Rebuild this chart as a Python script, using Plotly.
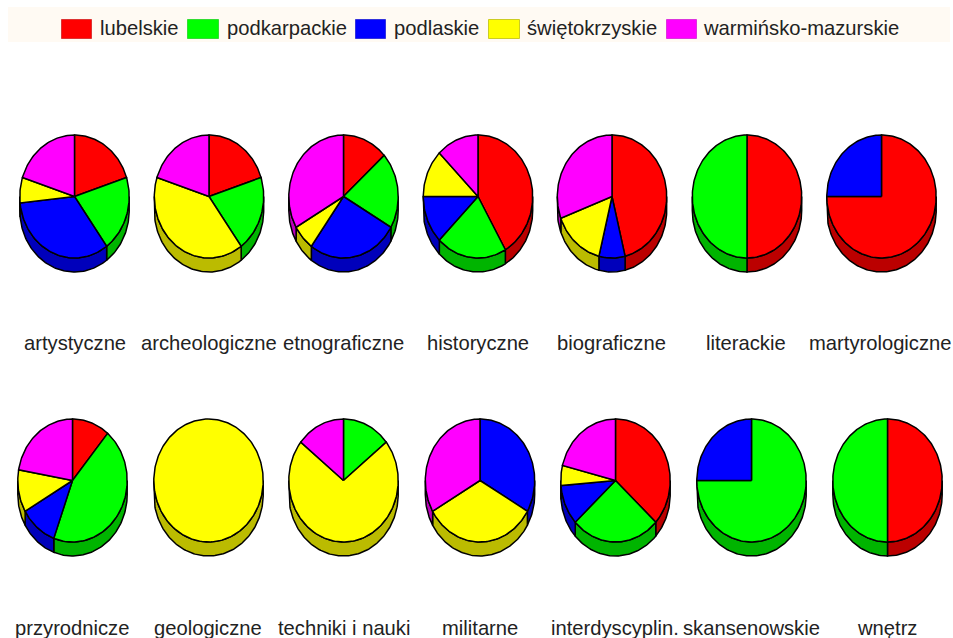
import numpy as np
import plotly.graph_objects as go

regions = ["lubelskie", "podkarpackie", "podlaskie", "świętokrzyskie", "warmińsko-mazurskie"]
colors = ["#ff0000", "#00ff00", "#0000ff", "#ffff00", "#ff00ff"]
wall_colors = ["#bb0000", "#00b400", "#0000bb", "#bbbb00", "#bb00bb"]
swatch_lines = ["#dd3333", "#33dd33", "#3333dd", "#cccc22", "#dd33dd"]

categories_top = ["artystyczne", "archeologiczne", "etnograficzne", "historyczne",
                  "biograficzne", "literackie", "martyrologiczne"]
categories_bottom = ["przyrodnicze", "geologiczne", "techniki i nauki", "militarne",
                     "interdyscyplin.", "skansenowskie", "wnętrz"]

lubelskie =      [3, 1, 2, 10, 6, 1, 3,   1, 0, 0, 0, 7, 0, 1]
podkarpackie =   [3, 1, 3, 5, 0, 1, 0,    4, 0, 1, 0, 5, 3, 1]
podlaskie =      [5, 0, 4, 3, 1, 0, 1,    1, 0, 0, 1, 2, 1, 0]
swietokrzyskie = [1, 2, 1, 3, 2, 0, 0,    1, 1, 5, 1, 1, 0, 0]
warminsko =      [3, 1, 5, 3, 4, 0, 0,    2, 0, 1, 1, 4, 0, 0]
series = [lubelskie, podkarpackie, podlaskie, swietokrzyskie, warminsko]

# layout (pixels in the 953x638 page)
W, H = 953, 638
RX, RY, DEPTH = 54.7, 61.5, 14.0
top_cx = [74.5, 209, 343.5, 478, 612, 747, 881.5]
bot_cx = [72.5, 208.5, 343.5, 480, 615.5, 751.5, 887.5]
top_lx = [74.5, 208.5, 343.5, 478, 611, 746, 880.5]
bot_lx = [72, 207.5, 343.5, 480, 615, 751, 887]
top_cy, bot_cy = 196.5, 480.5
top_ly, bot_ly = 343.5, 627.5
PAD = 1.12
X_SPAN = PAD * RX
Y_UP, Y_DOWN = 1.1, 1.35   # unit radii above/below the pie centre
LW = 1.5
FONT = dict(family="Liberation Sans", size=20.2, color="#222222")

fig = go.Figure()


def arc(t0, t1, n=None):
    n = n or max(2, int(abs(t1 - t0) / 1.5) + 2)
    return np.radians(np.linspace(t0, t1, n))


panels = []
cats = categories_top + categories_bottom
for i, cat in enumerate(cats):
    row_top = i < 7
    cx = (top_cx + bot_cx)[i]
    lx = (top_lx + bot_lx)[i]
    cy = top_cy if row_top else bot_cy
    ly = top_ly if row_top else bot_ly
    panels.append((cat, cx, lx, cy, ly))

for i, (cat, cx, lx, cy, ly) in enumerate(panels):
    ax = "" if i == 0 else str(i + 1)
    xa, ya = f"x{ax}", f"y{ax}"
    fig.layout[f"xaxis{ax}"] = dict(
        domain=[max(0, (cx - X_SPAN) / W), min(1, (cx + X_SPAN) / W)],
        range=[-PAD, PAD], visible=False, fixedrange=True, anchor=ya)
    fig.layout[f"yaxis{ax}"] = dict(
        domain=[1 - (cy + Y_DOWN * RY) / H, 1 - (cy - Y_UP * RY) / H],
        range=[-Y_DOWN, Y_UP], visible=False, fixedrange=True, anchor=xa)

    vals = [s[i] for s in series]
    total = sum(vals)
    edges = np.cumsum([0] + vals) / total * 360
    d = DEPTH / RY

    # side wall: only the part of each slice on the front half of the ellipse
    for k, region in enumerate(regions):
        a0, a1 = max(edges[k], 90), min(edges[k + 1], 270)
        if vals[k] == 0 or a1 <= a0:
            continue
        t = arc(a0, a1)
        xs = np.concatenate([np.sin(t), np.sin(t[::-1]), [np.sin(t[0])]])
        ys = np.concatenate([np.cos(t), np.cos(t[::-1]) - d, [np.cos(t[0])]])
        fig.add_trace(go.Scatter(x=xs, y=ys, xaxis=xa, yaxis=ya, mode="lines", fill="toself",
                                 fillcolor=wall_colors[k], line=dict(color="black", width=LW),
                                 hoverinfo="skip", showlegend=False))
    # top face
    for k, region in enumerate(regions):
        if vals[k] == 0:
            continue
        t = arc(edges[k], edges[k + 1])
        if vals[k] == total:
            xs, ys = np.sin(t), np.cos(t)
        else:
            xs = np.concatenate([[0], np.sin(t), [0]])
            ys = np.concatenate([[0], np.cos(t), [0]])
        fig.add_trace(go.Scatter(x=xs, y=ys, xaxis=xa, yaxis=ya, mode="lines", fill="toself",
                                 fillcolor=colors[k], line=dict(color="black", width=LW),
                                 name=region, hoveron="fills",
                                 text=f"{cat}: {region} {vals[k]}", hoverinfo="text",
                                 showlegend=False))
    fig.add_annotation(x=lx / W, y=1 - ly / H, xref="paper", yref="paper", text=cat,
                       showarrow=False, xanchor="center", yanchor="middle", font=FONT)

# legend strip
shapes = [dict(type="rect", xref="paper", yref="paper", x0=8 / W, x1=950 / W,
               y0=1 - 42 / H, y1=1 - 7 / H, fillcolor="#fffaf3", line_width=0, layer="below")]
sw_x = [61.5, 187.5, 355.5, 488.5, 666.5]
sw_w = [30, 31, 30, 31, 30]
tx_x = [99.5, 227, 393.5, 527, 702.5]
for k, region in enumerate(regions):
    shapes.append(dict(type="rect", xref="paper", yref="paper",
                       x0=sw_x[k] / W, x1=(sw_x[k] + sw_w[k]) / W,
                       y0=1 - 38.5 / H, y1=1 - 19.5 / H,
                       fillcolor=colors[k], line=dict(color=swatch_lines[k], width=1)))
    fig.add_annotation(x=tx_x[k] / W, y=1 - 28 / H, xref="paper", yref="paper", text=region,
                       showarrow=False, xanchor="left", yanchor="middle", xshift=-2, font=FONT)

fig.update_layout(width=W, height=H, margin=dict(l=0, r=0, t=0, b=0),
                  paper_bgcolor="white", plot_bgcolor="rgba(0,0,0,0)",
                  showlegend=False, shapes=shapes)

fig.write_html("out.html", config={"displayModeBar": False},
               post_script="document.body.style.margin='0';document.body.style.overflow='hidden';")
